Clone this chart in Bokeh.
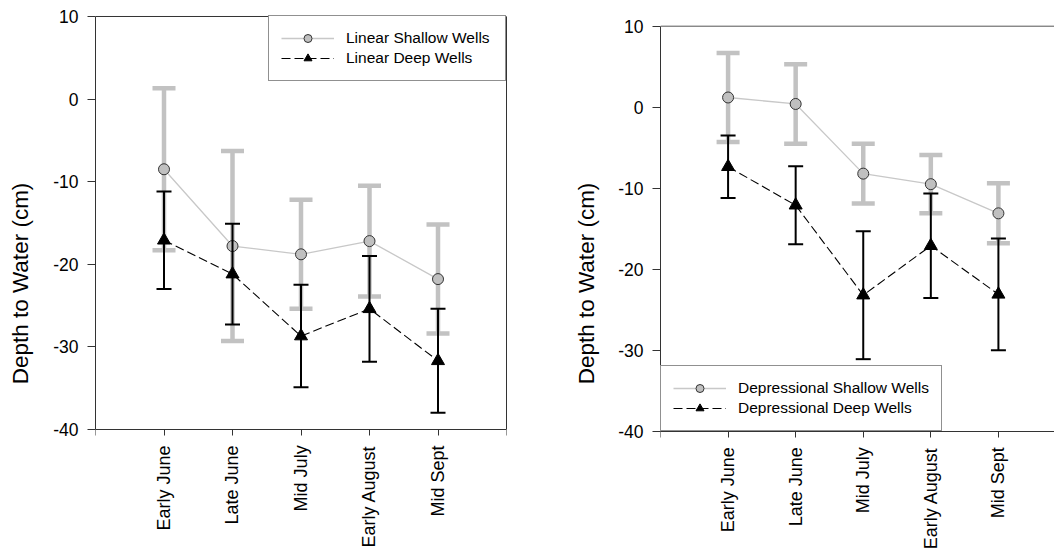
import math
from bokeh.plotting import figure
from bokeh.models import (Range1d, FixedTicker, Legend, LegendItem, Span,
                          LabelSet, ColumnDataSource, LinearAxis)
from bokeh.core.properties import value
from bokeh.layouts import row
from bokeh.embed import file_html
from bokeh.resources import INLINE

# ---------------- data ----------------
categories = ["Early June", "Late June", "Mid July", "Early August", "Mid Sept"]
y_ticks = [-40, -30, -20, -10, 0, 10]

linear_shallow_mean = [-8.5, -17.8, -18.8, -17.2, -21.8]
linear_shallow_err = [9.8, 11.5, 6.6, 6.7, 6.6]
linear_deep_mean = [-17.1, -21.2, -28.7, -25.4, -31.7]
linear_deep_err = [5.9, 6.1, 6.2, 6.4, 6.3]

dep_shallow_mean = [1.2, 0.4, -8.2, -9.5, -13.1]
dep_shallow_err = [5.5, 4.9, 3.7, 3.6, 3.7]
dep_deep_mean = [-7.35, -12.1, -23.2, -17.1, -23.1]
dep_deep_err = [3.85, 4.8, 7.9, 6.45, 6.9]

FONT = "Liberation Sans"
GRAY_BAR = "#c2c2c2"
GRAY_LINE = "#c8c8c8"
AXIS_COLOR = "#333333"
Y_MIN, Y_MAX = -40, 10


def make_panel(sh_mean, sh_err, dp_mean, dp_err, names, width, height,
               borders, x_end, y_range, legend_loc, legend_label_width,
               boxed, label_standoff):
    left, right, top, bottom = borders
    p = figure(width=width, height=height, output_backend="svg",
               toolbar_location=None, x_axis_location="above",
               x_range=Range1d(0, x_end), y_range=Range1d(*y_range),
               min_border_left=left, min_border_right=right,
               min_border_top=top, min_border_bottom=bottom)
    p.background_fill_color = "white"
    p.border_fill_color = "white"
    p.grid.visible = False
    p.outline_line_color = None

    x = [i + 1 for i in range(len(categories))]

    # shallow wells (gray)
    sh_lo = [m - e for m, e in zip(sh_mean, sh_err)]
    sh_hi = [m + e for m, e in zip(sh_mean, sh_err)]
    p.segment(x0=x, y0=sh_lo, x1=x, y1=sh_hi, line_color=GRAY_BAR, line_width=4.5)
    p.scatter(x=x + x, y=sh_lo + sh_hi, marker="dash", size=23,
              line_color=GRAY_BAR, line_width=4.5)
    sh_line = p.line(x, sh_mean, line_color=GRAY_LINE, line_width=1.3)
    sh_pts = p.scatter(x, sh_mean, marker="circle", size=11, fill_color="#c0c0c0",
                       line_color="#333333", line_width=1)

    # deep wells (black)
    dp_lo = [m - e for m, e in zip(dp_mean, dp_err)]
    dp_hi = [m + e for m, e in zip(dp_mean, dp_err)]
    p.segment(x0=x, y0=dp_lo, x1=x, y1=dp_hi, line_color="black", line_width=2)
    p.scatter(x=x + x, y=dp_lo + dp_hi, marker="dash", size=15,
              line_color="black", line_width=2)
    dp_line = p.line(x, dp_mean, line_color="black", line_width=1.1, line_dash="9 4")
    dp_pts = p.scatter(x, dp_mean, marker="triangle", size=13, fill_color="black",
                       line_color="black")

    # x axis drawn at y = -40 with downward ticks
    ticks = list(range(0, len(categories) + 2))
    p.xaxis.fixed_location = Y_MIN
    p.xaxis.ticker = FixedTicker(ticks=ticks)
    p.xaxis.major_label_overrides = {t: "" for t in ticks}
    p.xaxis.major_label_text_font_size = "0px"
    p.xaxis.major_label_standoff = 0
    p.xaxis.major_tick_out = 0
    p.xaxis.major_tick_in = 6
    p.xaxis.minor_tick_line_color = None
    p.xaxis.axis_line_color = AXIS_COLOR
    p.xaxis.major_tick_line_color = AXIS_COLOR

    lab_src = ColumnDataSource(dict(x=x, y=[Y_MIN] * len(x), text=categories))
    p.add_layout(LabelSet(x="x", y="y", text="text", source=lab_src,
                          angle=math.pi / 2, y_offset=-16,
                          text_align="right", text_baseline="middle",
                          text_font=value(FONT), text_font_size=value("18px"),
                          text_color="black"))

    p.yaxis.ticker = FixedTicker(ticks=y_ticks)
    p.yaxis.major_label_overrides = {t: str(t) for t in y_ticks}
    p.yaxis.bounds = (Y_MIN, Y_MAX)
    p.yaxis.major_label_text_font = FONT
    p.yaxis.major_label_text_font_size = "17.5px"
    p.yaxis.major_label_text_color = "black"
    p.yaxis.major_label_standoff = 9
    p.yaxis.major_tick_out = 8
    p.yaxis.major_tick_in = 0
    p.yaxis.minor_tick_line_color = None
    p.yaxis.axis_line_color = AXIS_COLOR
    p.yaxis.major_tick_line_color = AXIS_COLOR
    p.yaxis.axis_label = "Depth to Water (cm)"
    p.yaxis.axis_label_text_font = FONT
    p.yaxis.axis_label_text_font_size = "22.5px"
    p.yaxis.axis_label_text_font_style = "normal"
    p.yaxis.axis_label_text_color = "black"
    p.yaxis.axis_label_standoff = label_standoff

    # top border line at y = 10
    p.add_layout(Span(location=Y_MAX, dimension="width",
                      line_color=AXIS_COLOR if boxed else "#555555", line_width=1))
    if boxed:
        p.add_layout(LinearAxis(bounds=(Y_MIN, Y_MAX), ticker=FixedTicker(ticks=[]),
                                major_label_text_font_size="0px",
                                major_tick_line_color=None, minor_tick_line_color=None,
                                axis_line_color=AXIS_COLOR), "right")

    legend = Legend(items=[LegendItem(label=names[0], renderers=[sh_line, sh_pts]),
                           LegendItem(label=names[1], renderers=[dp_line, dp_pts])],
                    location=legend_loc, margin=0, padding=12, spacing=0,
                    glyph_width=53, glyph_height=20, label_height=20,
                    label_width=legend_label_width, label_standoff=12,
                    label_text_font=FONT, label_text_font_size="15.5px",
                    label_text_color="black",
                    border_line_color="#222222", border_line_width=1,
                    background_fill_color="white", background_fill_alpha=1.0)
    p.add_layout(legend, "center")
    return p


H = 551
# frames span y 15..551; y ranges place 10 and -40 where the reference has them
p1 = make_panel(linear_shallow_mean, linear_shallow_err, linear_deep_mean, linear_deep_err,
                ["Linear Shallow Wells", "Linear Deep Wells"],
                width=560, height=H, borders=(95, 54, 15, 0),
                x_end=6, y_range=(-54.79, 10.121), legend_loc="top_right",
                legend_label_width=147, boxed=True, label_standoff=17)
p2 = make_panel(dep_shallow_mean, dep_shallow_err, dep_deep_mean, dep_deep_err,
                ["Depressional Shallow Wells", "Depressional Deep Wells"],
                width=494, height=H, borders=(100, 0, 15, 0),
                x_end=5.83, y_range=(-54.84, 11.32), legend_loc=(0, 120),
                legend_label_width=189, boxed=False, label_standoff=16)

layout = row(p1, p2)
open("out.html", "w").write(file_html(layout, INLINE))
